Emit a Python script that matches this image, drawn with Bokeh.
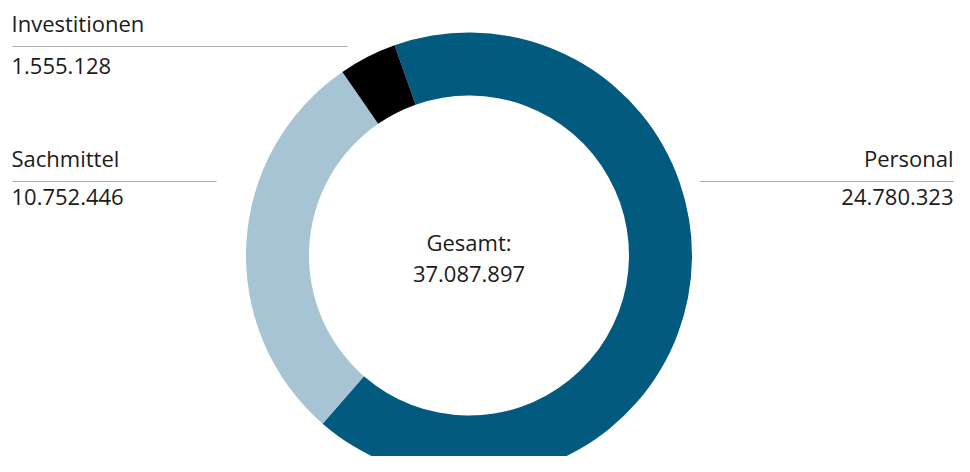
import math
from bokeh.plotting import figure
from bokeh.models import Range1d, ColumnDataSource
from bokeh.core.properties import value
from bokeh.embed import file_html
from bokeh.resources import INLINE

# ---- data ----
categories = ["Personal", "Sachmittel", "Investitionen"]
amounts = [24780323, 10752446, 1555128]
colors = ["#025b7e", "#a6c4d4", "#000000"]
total_label = "Gesamt:"

def de(n):
    return f"{n:,}".replace(",", ".")

total = sum(amounts)

# ---- layout (reference pixel coordinates) ----
W, H = 954, 456
def Y(y):
    return H - y

FONT = "Open Sans"
FS = "22px"
TXT = "#1b1b1b"
LINE = "#aab1b6"
TXT_SHIFT = 9  # rendering offset of text baseline

p = figure(width=W, height=H, x_range=Range1d(0, W), y_range=Range1d(0, H),
           output_backend="svg", toolbar_location=None, x_axis_type=None, y_axis_type=None,
           min_border=0)
p.grid.visible = False
p.outline_line_color = None
p.background_fill_color = "white"
p.border_fill_color = "white"

# donut
cx, cy = 468.5, Y(255)
start = math.radians(109.5)
starts, ends = [], []
cum = 0.0
for a in amounts:
    span = a / total * 2 * math.pi
    starts.append(start - cum)
    ends.append(start - cum - span)
    cum += span
src = ColumnDataSource(dict(cat=categories, amt=amounts, color=colors, s=starts, e=ends))
p.annular_wedge(x=cx, y=cy, inner_radius=160, outer_radius=223, start_angle="s", end_angle="e",
                direction="clock", fill_color="color", line_color=None, source=src)

# labels: (x, label baseline, line y, line x0, x1, value baseline, align)
label_pos = {
    "Investitionen": (11, 31, 46, 12, 347, 74, "left"),
    "Sachmittel": (11, 166, 181, 12, 216, 205, "left"),
    "Personal": (953, 166, 181, 699, 954, 205, "right"),
}
for cat, amt in zip(categories, amounts):
    x, yb, yl, x0, x1, yv, al = label_pos[cat]
    p.segment(x0=[x0], y0=[Y(yl)], x1=[x1], y1=[Y(yl)], line_color=LINE, line_width=1)
    p.text(x=[x, x], y=[Y(yb - TXT_SHIFT), Y(yv - TXT_SHIFT)], text=[cat, de(amt)], text_align=al,
           text_baseline="alphabetic", text_font=value(FONT), text_font_size=FS, text_color=TXT)

p.text(x=[cx, cx], y=[Y(250 - TXT_SHIFT), Y(282 - TXT_SHIFT)], text=[total_label, de(total)],
       text_align="center", text_baseline="alphabetic", text_font=value(FONT),
       text_font_size=FS, text_color=TXT)

open("out.html", "w").write(file_html(p, INLINE))
